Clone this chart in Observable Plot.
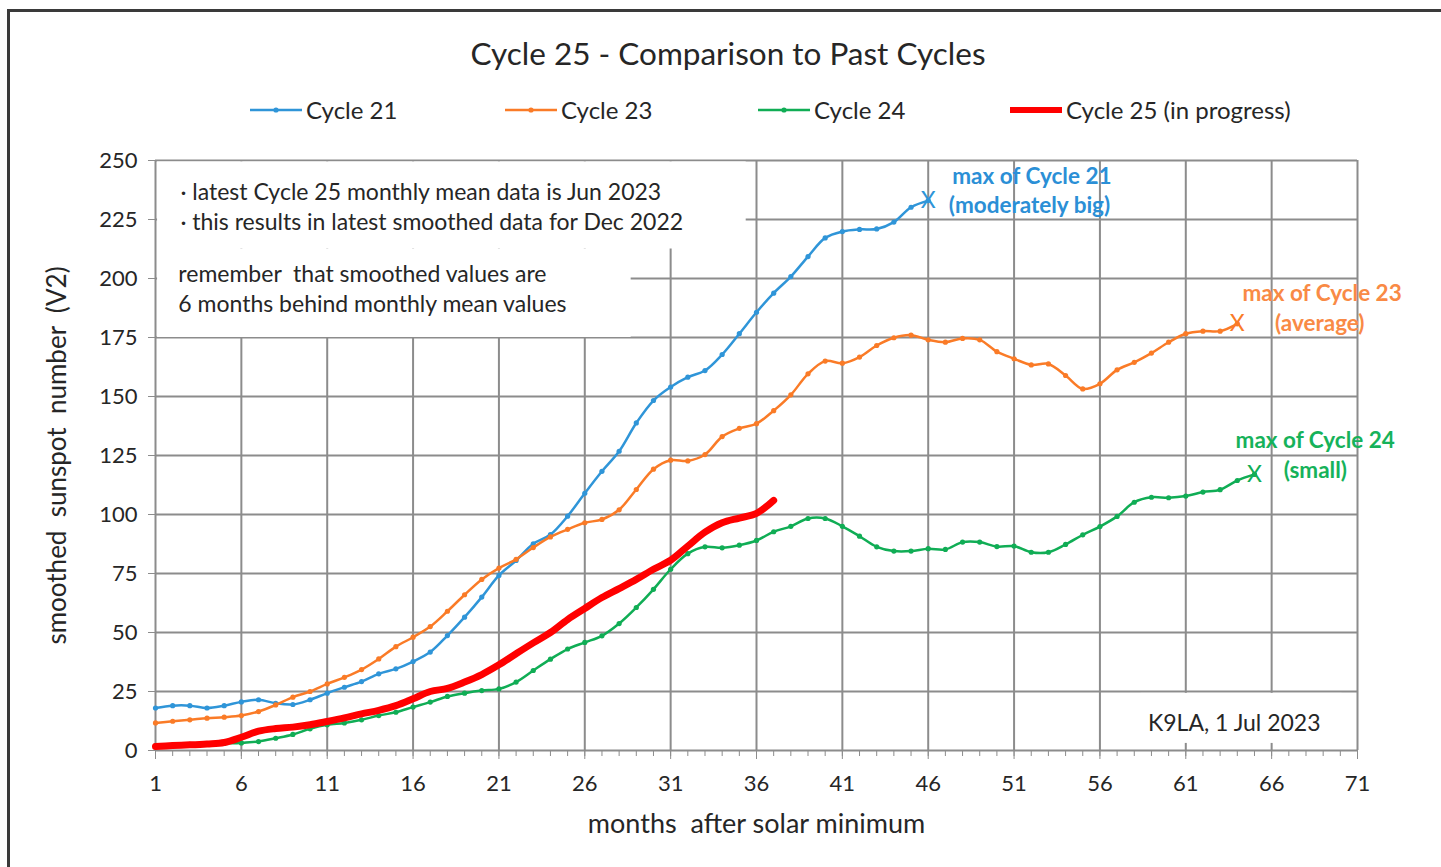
<!DOCTYPE html>
<html>
<head>
<meta charset="utf-8">
<script src="https://cdn.jsdelivr.net/npm/d3@7"></script>
<script src="https://cdn.jsdelivr.net/npm/@observablehq/plot@0.6"></script>
<style>
  html, body { margin: 0; overflow: hidden; }
  body { background: #fff; font-family: Lato, "Open Sans", sans-serif; color: #262626; width: 1441px; height: 867px; position: relative; }
  .frame { position: absolute; left: 7px; top: 9px; width: 1600px; height: 1000px; border-left: 3px solid #3a3a3a; border-top: 3px solid #3a3a3a; }
  #title { position: absolute; top: 32px; left: 228px; width: 1000px; text-align: center; font-size: 31.5px; line-height: 42px; }
  .leg { position: absolute; top: 95px; height: 30px; line-height: 30px; font-size: 24px; display: flex; align-items: center; white-space: nowrap; }
  .leg svg { margin-right: 4px; }
  #chart { position: absolute; left: 0; top: 140px; }
  #chart svg text { white-space: pre; }
</style>
</head>
<body>
<div class="frame"></div>
<div id="title">Cycle 25 - Comparison to Past Cycles</div>
<div id="legend"></div>
<div id="chart"></div>
<script>
// ---- data (smoothed sunspot number, month 1 = solar minimum) ----
const cycle21 = [18, 19, 19, 18, 19, 20.6, 21.5, 20, 19.5, 21.5, 24.3, 26.8, 29.2, 32.5, 34.6, 37.7, 41.7, 48.7, 56.5, 65,
  74.2, 80.5, 87.6, 91.5, 99.3, 109, 118.3, 126.8, 138.8, 148.3, 154, 158.2, 161, 167.8, 176.6, 185.7, 193.8, 200.8, 209.3, 217.2,
  219.9, 220.8, 221, 223.9, 230.2, 233];
const cycle23 = [11.7, 12.4, 13, 13.7, 14.1, 14.8, 16.5, 19.3, 22.6, 25, 28.2, 31, 34.3, 38.8, 44, 48, 52.5, 59, 66, 72.5,
  77.3, 81, 86, 90.5, 93.7, 96.5, 97.9, 102, 110.6, 119.2, 123, 122.7, 125.4, 133, 136.5, 138.5, 144, 150.7, 159.6, 165,
  164.1, 166.7, 171.6, 174.9, 176, 174, 173, 174.6, 174, 169, 166, 163.4, 163.8, 158.9, 153.2, 155.4, 161.3, 164.5, 168.4, 173,
  176.6, 177.7, 177.7, 180.8];
const cycle24 = [2, 2.3, 2.6, 2.8, 3, 3.2, 3.8, 5.2, 6.8, 9.2, 10.9, 11.7, 13, 14.8, 16.2, 18.4, 20.5, 22.9, 24.3, 25.4,
  26.1, 29, 33.9, 38.7, 43, 45.8, 48.6, 53.8, 60.6, 68.3, 76.8, 83.4, 86.3, 85.9, 87, 89, 92.7, 95, 98.3, 98.3,
  95, 90.8, 86.3, 84.5, 84.5, 85.5, 85.2, 88.3, 88.3, 86.4, 86.6, 84, 84, 87.3, 91.4, 94.9, 99.2, 105.2, 107.3, 107.1,
  107.8, 109.5, 110.5, 114.4, 117];
const cycle25 = [1.7, 2.1, 2.4, 2.8, 3.4, 5.6, 8.2, 9.3, 9.9, 10.9, 12.3, 13.8, 15.5, 17, 19, 21.9, 25, 26.3, 29, 32.2,
  36.3, 41, 45.6, 50, 55.5, 60.2, 64.8, 68.6, 72.5, 76.8, 80.6, 86.6, 92.5, 96.5, 98.5, 100.5, 106];

const seriesNames = ["Cycle 21", "Cycle 23", "Cycle 24", "Cycle 25 (in progress)"];
const seriesColors = ["#2f95d8", "#fa7b27", "#10ad55", "#ff0000"];
const labelColors = ["#2b8fd6", "#f98a45", "#16b25a"];

const xTicksMajor = d3.range(1, 72, 5);
const xTicksMinor = d3.range(1, 72);
const yTicks = d3.range(0, 251, 25);

// ---- annotations (data units) ----
const noteBoxes = [
  {x1: 1.12, x2: 35.4, y1: 212.5, y2: 249.4},
  {x1: 1.12, x2: 28.7, y1: 175, y2: 212.5},
  {x1: 58.4, x2: 70.1, y1: 3, y2: 24.2}
];
const noteLines = [
  {x: 2.45, y: 236.4, text: "· latest Cycle 25 monthly mean data is Jun 2023"},
  {x: 2.45, y: 223.7, text: "· this results in latest smoothed data for Dec 2022"},
  {x: 2.33, y: 201.7, text: "remember  that smoothed values are"},
  {x: 2.33, y: 189, text: "6 months behind monthly mean values"},
  {x: 58.8, y: 11.4, text: "K9LA, 1 Jul 2023"}
];
const maxLabels = [
  {x: 47.4, y: 243.2, text: "max of Cycle 21", c: 0},
  {x: 47.2, y: 231, text: "(moderately big)", c: 0},
  {x: 64.3, y: 193.6, text: "max of Cycle 23", c: 1},
  {x: 66.2, y: 181, text: "(average)", c: 1},
  {x: 63.9, y: 131.4, text: "max of Cycle 24", c: 2},
  {x: 66.7, y: 118.6, text: "(small)", c: 2}
];

const rows = vals => vals.map((v, i) => ({m: i + 1, v}));
const past = [cycle21, cycle23, cycle24];
const maxPoints = past.map((vals, i) => ({m: vals.length, v: vals[vals.length - 1], c: i}));

// ---- legend ----
const legendLeft = [250, 505, 758, 1010];
const legend = document.getElementById("legend");
seriesNames.forEach((name, i) => {
  const d = document.createElement("div");
  d.className = "leg";
  d.style.left = legendLeft[i] + "px";
  const thick = i === 3;
  d.innerHTML = `<svg width="52" height="20"><line x1="0" x2="52" y1="10" y2="10" stroke="${seriesColors[i]}" stroke-width="${thick ? 6 : 2.5}" stroke-linecap="${thick ? 'round' : 'butt'}"/>${thick ? '' : `<circle cx="26" cy="10" r="2.6" fill="${seriesColors[i]}"/>`}</svg><span>${name}</span>`;
  legend.appendChild(d);
});

// ---- chart ----
const gridStyle = {stroke: "#8c8c8c", strokeOpacity: 1, strokeWidth: 2};
const marks = [
  Plot.gridX(xTicksMajor, gridStyle),
  Plot.gridY(yTicks, gridStyle),
  Plot.rect(noteBoxes, {x1: "x1", x2: "x2", y1: "y1", y2: "y2", fill: "white"})
];
past.forEach((vals, i) => {
  marks.push(Plot.line(rows(vals), {x: "m", y: "v", stroke: seriesColors[i], strokeWidth: 2.5, curve: "catmull-rom"}));
  marks.push(Plot.dot(rows(vals), {x: "m", y: "v", r: 2.6, fill: seriesColors[i], stroke: "none"}));
});
marks.push(Plot.line(rows(cycle25), {x: "m", y: "v", stroke: seriesColors[3], strokeWidth: 7, curve: "catmull-rom", strokeLinecap: "round"}));
marks.push(
  Plot.text(noteLines, {x: "x", y: "y", text: "text", textAnchor: "start", fontSize: 23, fill: "#262626"}),
  ...[0, 1, 2].map(c => Plot.text(maxLabels.filter(d => d.c === c), {x: "x", y: "y", text: "text", textAnchor: "start", fontSize: 22.5, fontWeight: "bold", fill: labelColors[c]})),
  ...[0, 1, 2].map(c => Plot.text(maxPoints.filter(d => d.c === c), {x: "m", y: "v", text: () => "X", fontSize: 23, fill: seriesColors[c]})),
  Plot.axisY({ticks: yTicks, tickSize: 7, tickPadding: 11, fontSize: 22, stroke: "#8c8c8c", fill: "#262626", label: null}),
  Plot.axisX({ticks: xTicksMinor, tickSize: 6, tickFormat: () => "", stroke: "#8c8c8c", label: null}),
  Plot.axisX({ticks: xTicksMajor, tickSize: 9, tickPadding: 16, fontSize: 22, stroke: "#8c8c8c", fill: "#262626", label: null}),
  Plot.text(["months  after solar minimum"], {frameAnchor: "bottom", dy: 82, fontSize: 27, fill: "#262626"}),
  Plot.text(["smoothed  sunspot  number  (V2)"], {frameAnchor: "left", textAnchor: "middle", rotate: -90, dx: -98, fontSize: 26, fill: "#262626"})
);

const chart = Plot.plot({
  width: 1441,
  height: 727,
  marginLeft: 155,
  marginRight: 84,
  marginTop: 20,
  marginBottom: 117,
  style: {fontFamily: "Lato, 'Open Sans', sans-serif", background: "transparent", overflow: "visible"},
  x: {domain: [1, 71]},
  y: {domain: [0, 250]},
  marks
});
document.getElementById("chart").appendChild(chart);
</script>
</body>
</html>
